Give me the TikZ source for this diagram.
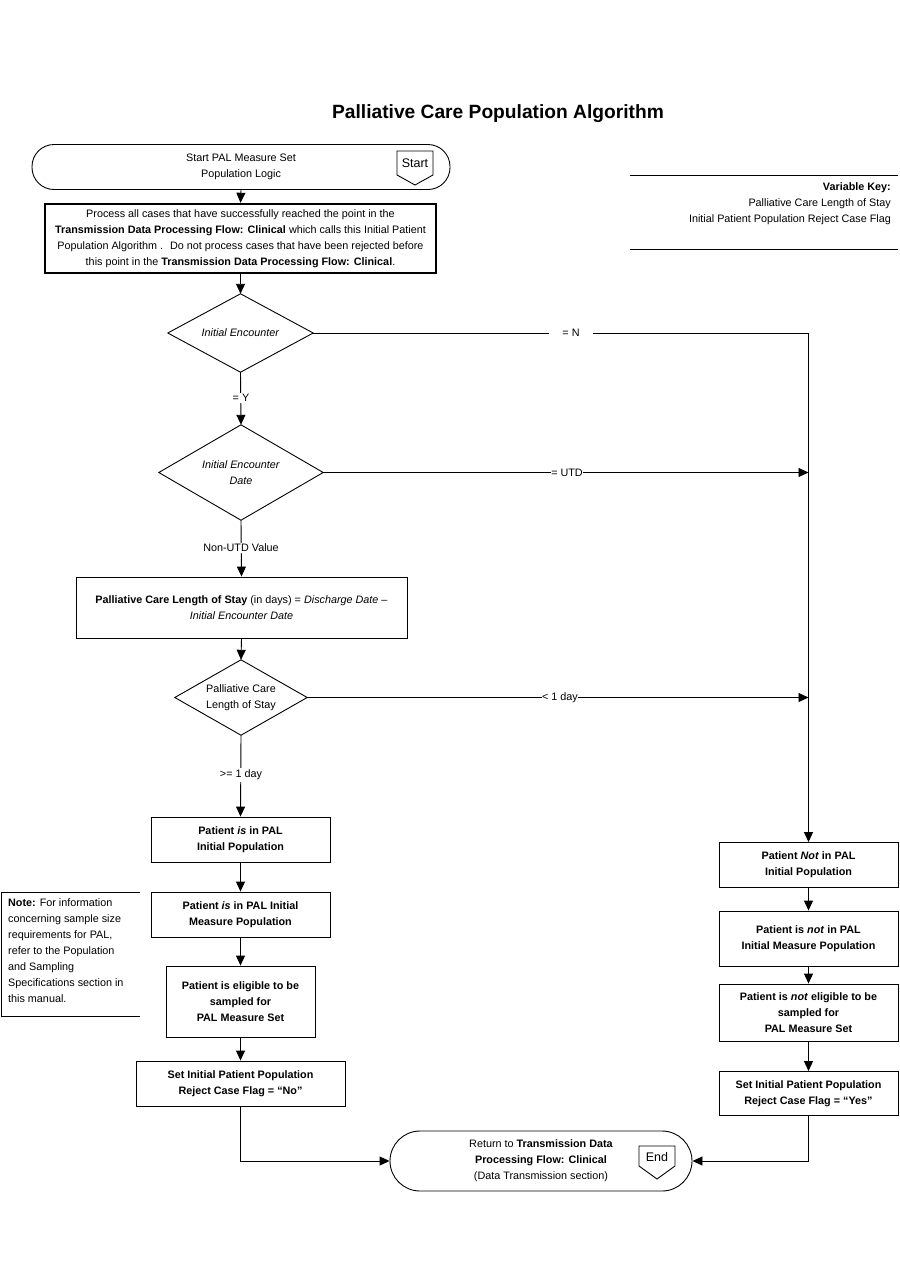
\documentclass[tikz,border=0pt]{standalone}
\usepackage{fontspec}
\setmainfont{Liberation Sans}
\usetikzlibrary{arrows.meta,shapes.geometric}
\begin{document}
\begin{tikzpicture}[x=1pt,y=-1pt,
  txt/.style={font=\fontsize{10.8}{16}\selectfont, align=center},
  btxt/.style={font=\bfseries\fontsize{10.8}{16}\selectfont, align=center},
  box/.style={draw, line width=0.9pt, inner sep=0pt, txt},
  bbox/.style={box, btxt},
  term/.style={box},
  dia/.style={rectangle, inner sep=0pt, txt},
  arr/.style={-{Triangle[length=10pt,width=9pt]}, line width=0.9pt},
  ln/.style={line width=0.9pt},
  lbl/.style={fill=white, inner sep=1.5pt, txt},
  tag/.style={draw, line width=0.9pt}
]
\useasboundingbox (0,0) rectangle (900,1286);

\node[font=\bfseries\fontsize{19.2}{22}\selectfont] (title) at (498,114) {Palliative Care Population Algorithm};

% start terminator
\node[term, rounded corners=22pt, minimum width=418pt, minimum height=45pt] (start) at (241,167) {Start PAL Measure Set\\Population Logic};
\draw[tag] (397,151) -- (433,151) -- (433,175) -- (415,185) -- (397,175) -- cycle;
\node[font=\fontsize{12.5}{14}\selectfont] (starttag) at (415,163) {Start};

% process box
\node[box, line width=2.4pt, minimum width=391pt, minimum height=69pt] (proc) at (240.5,238.5)
 {Process all cases that have successfully reached the point in the\\
  \textbf{Transmission Data Processing Flow: Clinical} which calls this Initial Patient\\
  Population Algorithm .~ Do not process cases that have been rejected before\\
  this point in the \textbf{Transmission Data Processing Flow: Clinical}.};

% variable key
\coordinate (k1) at (630,175); \coordinate (k2) at (898,175);
\coordinate (k3) at (630,249); \coordinate (k4) at (898,249);
\draw[ln] (k1) -- (k2);
\draw[ln] (k3) -- (k4);
\node[txt, anchor=east, inner sep=0pt] (vk) at (891,188) {\textbf{Variable Key:}};
\node[txt, anchor=east, inner sep=0pt] (vk1) at (891,204) {Palliative Care Length of Stay};
\node[txt, anchor=east, inner sep=0pt] (vk2) at (891,220) {Initial Patient Population Reject Case Flag};

% diamonds
\node[dia, minimum width=145pt, minimum height=78pt] (d1) at (240.5,333) {\textit{Initial Encounter}};
\node[dia, minimum width=164pt, minimum height=95pt] (d2) at (241,472.5) {\textit{Initial Encounter}\\\textit{Date}};
\node[box, minimum width=331pt, minimum height=61pt] (b3) at (241.5,607.5)
 {\textbf{Palliative Care Length of Stay} (in days) = \textit{Discharge Date} –\\\textit{Initial Encounter Date}};
\node[dia, minimum width=132pt, minimum height=75pt] (d3) at (241,697.5) {Palliative Care\\Length of Stay};
\foreach \d in {d1,d2,d3}
  \draw[ln, line join=miter] (\d.north) -- (\d.east) -- (\d.south) -- (\d.west) -- cycle;

% left column
\node[bbox, minimum width=179pt, minimum height=45pt] (b4) at (240.5,839.5) {Patient \textit{is} in PAL\\Initial Population};
\node[bbox, minimum width=179pt, minimum height=45pt] (b5) at (240.5,914.5) {Patient \textit{is} in PAL Initial\\Measure Population};
\node[bbox, minimum width=149pt, minimum height=71pt] (b6) at (240.5,1001.5) {Patient is eligible to be\\sampled for\\PAL Measure Set};
\node[bbox, minimum width=209pt, minimum height=45pt] (b7) at (240.5,1083.5) {Set Initial Patient Population\\Reject Case Flag = “No”};

% right column
\node[bbox, minimum width=179pt, minimum height=45pt] (r1) at (808.5,865) {Patient \textit{Not} in PAL\\Initial Population};
\node[bbox, minimum width=179pt, minimum height=55pt] (r2) at (808.5,938.5) {Patient is \textit{not} in PAL\\Initial Measure Population};
\node[bbox, minimum width=179pt, minimum height=57pt] (r3) at (808.5,1012.5) {Patient is \textit{not} eligible to be\\sampled for\\PAL Measure Set};
\node[bbox, minimum width=179pt, minimum height=44pt] (r4) at (808.5,1093.5) {Set Initial Patient Population\\Reject Case Flag = “Yes”};

% end terminator
\node[term, rounded corners=30pt, minimum width=302pt, minimum height=60pt] (end) at (541,1161)
 {Return to \textbf{Transmission Data}\\\textbf{Processing Flow: Clinical}\\(Data Transmission section)};
\draw[tag] (639,1146) -- (675,1146) -- (675,1166) -- (657,1179) -- (639,1166) -- cycle;
\node[font=\fontsize{12.5}{14}\selectfont] (endtag) at (657,1157) {End};

% note
\coordinate (n1) at (140,892); \coordinate (n2) at (1,892);
\coordinate (n3) at (1,1016); \coordinate (n4) at (140,1016);
\draw[ln] (n1) -- (n2) -- (n3) -- (n4);
\node[txt, align=left, anchor=north west, inner sep=0pt] (note) at (8,898)
 {\textbf{Note:} For information\\concerning sample size\\requirements for PAL,\\refer to the Population\\and Sampling\\Specifications section in\\this manual.};

% connectors
\draw[arr] (start.south) -- (proc.north);
\draw[arr] (proc.south) -- (d1.north);
\draw[arr] (d1.south) -- (d2.north);
\draw[arr] (d2.south) -- (b3.north);
\draw[arr] (b3.south) -- (d3.north);
\draw[arr] (d3.south) -- (b4.north);
\draw[arr] (b4) -- (b5);
\draw[arr] (b5) -- (b6);
\draw[arr] (b6) -- (b7);
\draw[arr] (b7.south) |- (end.west);

\coordinate (c1) at (808.5,333);
\coordinate (c2) at (808.5,472.5);
\coordinate (c3) at (808.5,697.5);
\draw[ln] (d1.east) -- (c1);
\draw[arr] (c1) -- (r1.north);
\draw[arr] (d2.east) -- (c2);
\draw[arr] (d3.east) -- (c3);
\draw[arr] (r1) -- (r2);
\draw[arr] (r2) -- (r3);
\draw[arr] (r3) -- (r4);
\draw[arr] (r4.south) |- (end.east);

% labels
\node[lbl, inner xsep=13pt] (ln) at (571,333) {= N};
\node[lbl, inner xsep=0.5pt] (lutd) at (567,472.5) {= UTD};
\node[lbl, inner xsep=0.5pt] (l1d) at (560,697.5) {< 1 day};
\node[lbl] (ly) at (241,398) {= Y};
\node[lbl] (lnon) at (241,548) {Non-UTD Value};
\node[lbl] (lge) at (241,775) {>= 1 day};
\end{tikzpicture}
\end{document}
